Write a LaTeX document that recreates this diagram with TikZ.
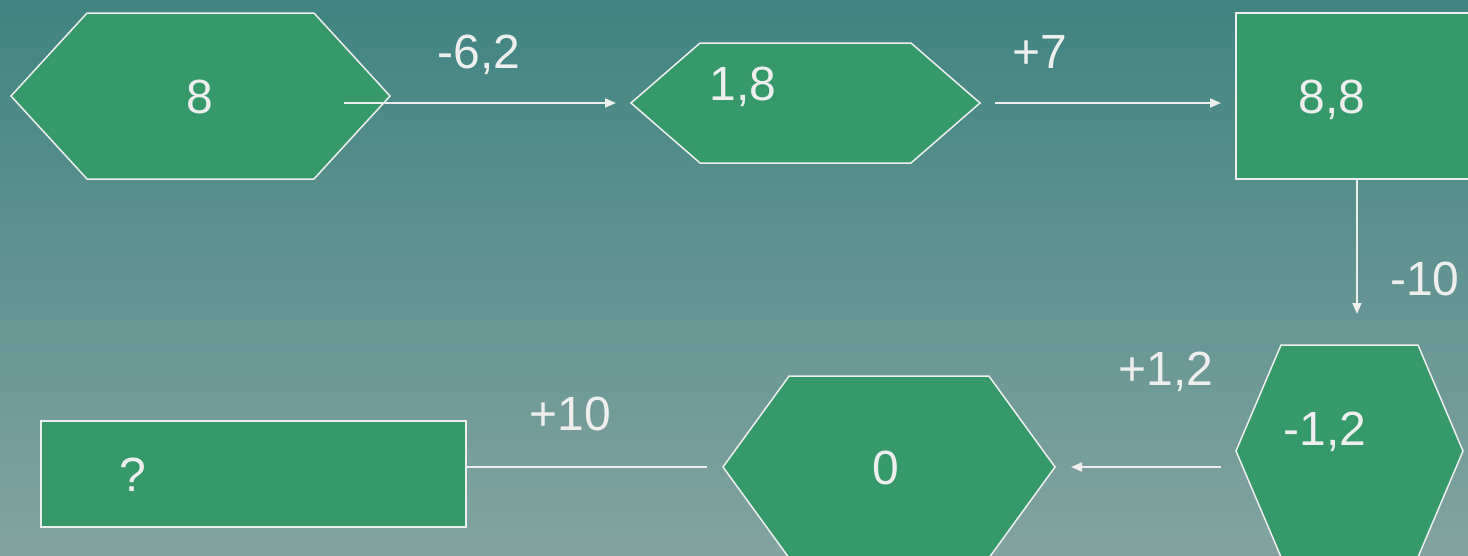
\documentclass[tikz,border=0pt]{standalone}
\usepackage{fontspec}
\setmainfont{Liberation Sans}
\usetikzlibrary{arrows.meta,shapes.symbols}
\definecolor{sky}{HTML}{3F8482}
\definecolor{mist}{HTML}{84A3A0}
\definecolor{leaf}{HTML}{35996A}
\definecolor{chalk}{HTML}{EEEEEE}
\tikzset{
  cell/.style={draw=chalk, fill=leaf, line width=1.5pt, inner sep=0pt, outer sep=0pt},
  hexa/.style={cell, signal, signal to=west and east},
  boxed/.style={cell, rectangle},
  num/.style={text=chalk, font=\fontsize{48}{56}\selectfont, anchor=base, inner sep=0pt},
  ar/.style={-{Triangle[length=11pt,width=9pt]}, line width=1.8pt, draw=chalk},
  ln/.style={line width=1.8pt, draw=chalk},
}
\begin{document}
\begin{tikzpicture}[x=1pt, y=-1pt]
\useasboundingbox (0,0) rectangle (1468,555);
\clip (0,0) rectangle (1468,555);
\fill[top color=sky, bottom color=mist] (0,0) rectangle (1468,555);

% --- top row ---
\node[hexa, minimum width=379pt, minimum height=166pt, signal pointer angle=95] (h1) at (200.5,96) {};
\node[hexa, minimum width=349pt, minimum height=120pt, signal pointer angle=82] (h2) at (805.5,103) {};
\node[boxed, minimum width=264pt, minimum height=166pt] (r1) at (1368,96) {};

\node[num] (n8)  at (200,113.5) {8};
\node[num] (n18) at (743,100.5) {1,8};
\node[num] (n88) at (1332,113) {8,8};

% --- bottom row ---
\node[hexa, minimum width=227pt, minimum height=212pt, signal pointer angle=134] (h5) at (1349.5,451) {};
\node[hexa, minimum width=332pt, minimum height=182pt, signal pointer angle=108] (h4) at (889,467) {};
\node[boxed, minimum width=425pt, minimum height=106pt] (r2) at (253.5,474) {};

\node[num] (n12) at (1325,445) {-1,2};
\node[num] (n0)  at (886,484) {0};
\node[num] (nq)  at (133,491) {?};

% connectors
\draw[ar, shorten >=15pt] (h2.west -| h1.east) ++(-46,0) -- (h2.west);
\draw[ar, shorten <=15pt, shorten >=15pt] (h2.east) -- (h2.east -| r1.west);
\draw[ar, shorten >=31pt] ([xshift=7.5pt]h5.north |- r1.south) -- ([xshift=7.5pt]h5.north);
\draw[ar, shorten <=15pt, shorten >=16pt] (h4.east -| h5.west) -- (h4.east);
\draw[ln, shorten <=16pt] (h4.west) -- (h4.west -| r2.east);

% step labels
\node[num] (l62)  at (479,68)  {-6,2};
\node[num] (l7)   at (1040,68) {+7};
\node[num] (l10)  at (1425,295) {-10};
\node[num] (l12)  at (1166,385) {+1,2};
\node[num] (l10b) at (570,430)  {+10};

\end{tikzpicture}
\end{document}
